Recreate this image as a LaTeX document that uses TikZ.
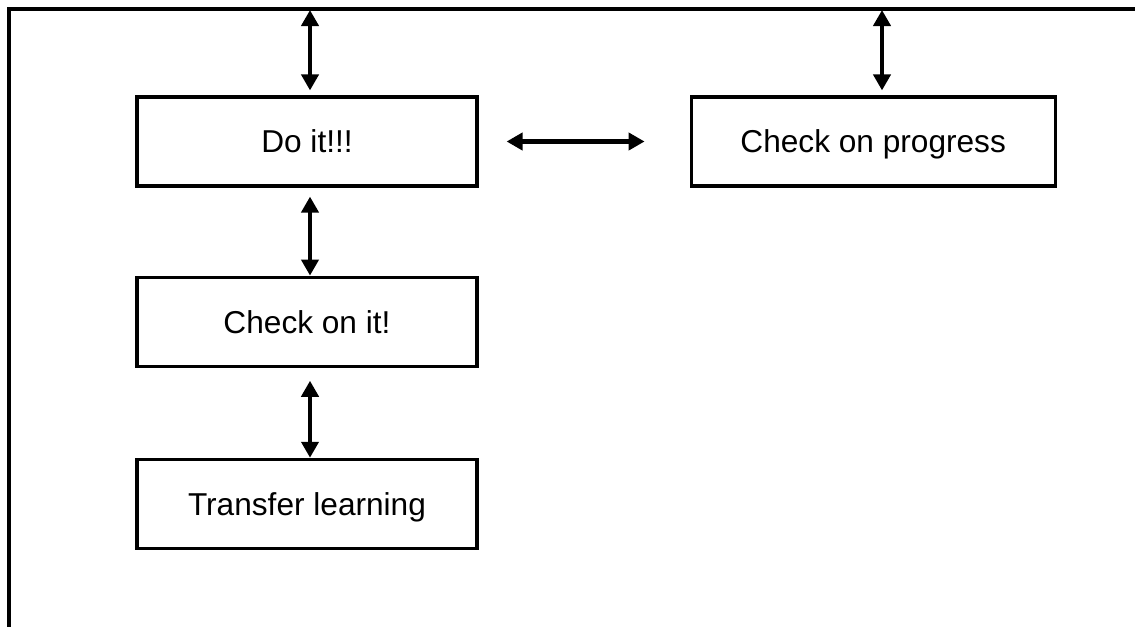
\documentclass[tikz,border=0pt]{standalone}
\usepackage{fontspec}
\setmainfont{Liberation Sans}
\usetikzlibrary{positioning,arrows.meta}
\begin{document}
\begin{tikzpicture}[
    box/.style={rectangle, draw, line width=1.8pt, minimum width=6.8cm, minimum height=1.78cm, text height=12.9pt, text depth=0pt, font=\fontsize{18}{22}\selectfont},
    twoway/.style={{Triangle[length=0.32cm,width=0.34cm]}-{Triangle[length=0.32cm,width=0.34cm]}, line width=2.6pt}
]
    \useasboundingbox (0,0) rectangle (22.7,-12.52);
    % Frame
    \draw [line width=1.8pt] (0.18,-12.6) -- (0.18,-0.18) -- (22.8,-0.18);

    % Nodes
    \node [box] (doit) at (6.14,-2.83) {Do it!!!};
    \node [box, minimum width=7.28cm, right=4.22cm of doit] (progress) {Check on progress};
    \node [box, below=1.76cm of doit] (checkit) {Check on it!};
    \node [box, below=1.8cm of checkit] (transfer) {Transfer learning};

    % Free ends at the frame
    \coordinate (topleft) at (6.2,-0.2);
    \coordinate (topright) at (17.64,-0.2);

    % Path
    \draw [twoway] (topleft) -- (topleft |- doit.north) [shorten >=0.1cm];
    \draw [twoway] (topright) -- (topright |- progress.north) [shorten >=0.1cm];
    \draw [twoway, shorten <=0.56cm, shorten >=0.9cm] (doit) -- (progress);
    \draw [twoway, shorten <=0.18cm] ([xshift=0.06cm]doit.south) -- ([xshift=0.06cm]checkit.north);
    \draw [twoway, shorten <=0.26cm] ([xshift=0.06cm]checkit.south) -- ([xshift=0.06cm]transfer.north);
\end{tikzpicture}
\end{document}
